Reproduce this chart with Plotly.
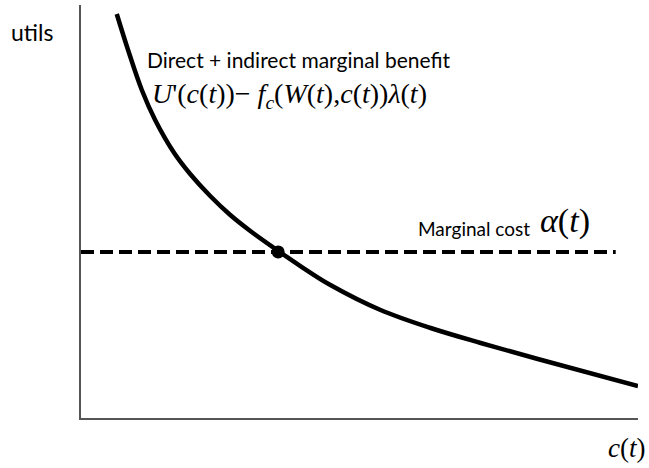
import plotly.graph_objects as go

# Marginal benefit curve (abstract units: x = consumption c(t), y = utils)
benefit_c = [6.42, 8.45, 10.92, 13.31, 16.73, 19.60, 23.20, 26.80, 30.40, 35.43,
             39.39, 44.78, 53.78, 62.77, 71.76, 82.01, 100.0]
benefit_u = [97.82, 89.10, 79.42, 72.15, 64.16, 59.08, 53.75, 49.15, 45.28, 40.44,
             36.80, 32.20, 26.15, 21.79, 18.16, 14.29, 7.75]

# Marginal cost (horizontal)
cost_c = [0.0, 96.0]
cost_u = [40.2, 40.2]

# Optimum
opt_c = [35.4]
opt_u = [40.2]

fig = go.Figure()
fig.add_trace(go.Scatter(x=benefit_c, y=benefit_u, mode="lines",
                         line=dict(color="black", width=4.5, shape="spline", smoothing=1.0),
                         hoverinfo="skip"))
fig.add_trace(go.Scatter(x=cost_c, y=cost_u, mode="lines",
                         line=dict(color="black", width=4, dash="13px,6px"),
                         hoverinfo="skip"))
fig.add_trace(go.Scatter(x=opt_c, y=opt_u, mode="markers",
                         marker=dict(color="black", size=13), hoverinfo="skip"))

sans = "Lato, Open Sans, sans-serif"
serif = "Liberation Serif, DejaVu Serif, serif"

annos = [
    dict(x=-0.088, y=0.935, xref="paper", yref="paper", text="utils",
         font=dict(family=sans, size=23, color="black"), xanchor="center", yanchor="middle"),
    dict(x=0.980, y=-0.073, xref="paper", yref="paper", text="<i>c</i>(<i>t</i>)",
         font=dict(family=serif, size=27, color="black"), xanchor="center", yanchor="middle"),
    dict(x=11.5, y=86.7, xref="x", yref="y", text="Direct + indirect marginal benefit",
         font=dict(family=sans, size=21, color="black"), xanchor="left", yanchor="middle"),
    dict(x=12.4, y=78.2, xref="x", yref="y",
         text="<i>U</i>'(<i>c</i>(<i>t</i>))− <i>f<sub>c</sub></i>(<i>W</i>(<i>t</i>),<i>c</i>(<i>t</i>))<i>λ</i>(<i>t</i>)",
         font=dict(family=serif, size=28, color="black"), xanchor="left", yanchor="middle"),
    dict(x=60.1, y=46.0, xref="x", yref="y", text="Marginal cost",
         font=dict(family=sans, size=19, color="black"), xanchor="left", yanchor="middle"),
    dict(x=82.0, y=47.8, xref="x", yref="y", text="<i>α</i>(<i>t</i>)",
         font=dict(family=serif, size=34, color="black"), xanchor="left", yanchor="middle"),
]
for a in annos:
    a.update(showarrow=False)

fig.update_layout(
    width=649, height=468,
    margin=dict(l=81, r=11, t=5, b=50),
    plot_bgcolor="white", paper_bgcolor="white",
    showlegend=False,
    annotations=annos,
    xaxis=dict(range=[0, 100], showline=True, linecolor="#555555", linewidth=1.5,
               showgrid=False, zeroline=False, showticklabels=False, ticks=""),
    yaxis=dict(range=[0, 100], showline=True, linecolor="#555555", linewidth=1.5,
               showgrid=False, zeroline=False, showticklabels=False, ticks=""),
)
fig.write_html("out.html", config={"displayModeBar": False},
               post_script="document.body.style.margin='0';")
